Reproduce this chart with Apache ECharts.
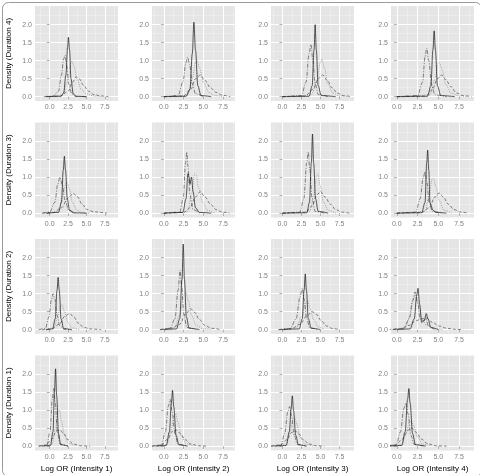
<!DOCTYPE html>
<html><head><meta charset="utf-8">
<script src="https://cdn.jsdelivr.net/npm/echarts@6/dist/echarts.min.js"></script>
<style>html,body{margin:0;padding:0;background:#fff}#c{width:480px;height:475px}</style>
</head><body><div id="c"></div><script>
const durationLabels = ['Density (Duration 4)', 'Density (Duration 3)', 'Density (Duration 2)', 'Density (Duration 1)'];
const intensityLabels = ['Log OR (Intensity 1)', 'Log OR (Intensity 2)', 'Log OR (Intensity 3)', 'Log OR (Intensity 4)'];
const xTicks = [0, 2.5, 5, 7.5];
const yTicks = [0, 0.5, 1, 1.5, 2];
const xMinor = [-1.25, 1.25, 3.75, 6.25, 8.75];
const yMinor = [0.25, 0.75, 1.25, 1.75, 2.25];

// Row 1: Duration 4
const r1c1_solid = [[-0.5,0],[1.5,0.01],[1.9,0.1],[2.2,0.6],[2.45,1.4],[2.55,1.65],[2.7,1.3],[2.9,0.5],[3.2,0.08],[3.6,0.01],[5,0]];
const r1c1_dashdot = [[-0.8,0],[0.5,0.02],[1.2,0.15],[1.6,0.6],[1.9,1.05],[2.1,1.15],[2.3,0.9],[2.6,0.35],[3.0,0.08],[3.5,0.01],[5,0]];
const r1c1_dotted = [[0.5,0],[1.8,0.05],[2.4,0.4],[2.8,0.9],[3.0,1.0],[3.3,0.85],[3.7,0.5],[4.3,0.2],[5,0.08],[6,0.02],[7,0]];
const r1c1_dashed = [[0,0],[1.5,0.02],[2.5,0.15],[3.1,0.4],[3.6,0.55],[4.0,0.5],[4.6,0.32],[5.3,0.15],[6.0,0.06],[7,0.02],[8,0]];

const r1c2_solid = [[0,0],[2.8,0.01],[3.3,0.2],[3.6,1.2],[3.8,2.07],[4.0,1.3],[4.3,0.3],[4.7,0.03],[6,0]];
const r1c2_dashdot = [[0,0],[1.8,0.03],[2.4,0.4],[2.8,0.95],[3.0,1.1],[3.25,0.9],[3.6,0.35],[4.0,0.08],[5,0]];
const r1c2_dotted = [[1.5,0],[3,0.05],[3.6,0.5],[4.0,0.95],[4.2,1.02],[4.5,0.8],[5.0,0.4],[5.7,0.12],[6.5,0.03],[7.5,0]];
const r1c2_dashed = [[0,0],[2.5,0.02],[3.4,0.2],[4.0,0.5],[4.6,0.6],[5.2,0.45],[5.9,0.25],[6.6,0.12],[7.4,0.04],[8.4,0]];

const r1c3_solid = [[0,0],[3.5,0.01],[3.9,0.3],[4.15,1.3],[4.3,2.0],[4.45,1.3],[4.7,0.3],[5.1,0.03],[7,0]];
const r1c3_dashdot = [[0,0],[2.5,0.03],[3.1,0.4],[3.5,1.2],[3.75,1.45],[4.0,1.0],[4.3,0.35],[4.7,0.06],[6,0]];
const r1c3_dotted = [[1.5,0],[3.8,0.05],[4.5,0.4],[5.0,0.95],[5.2,1.05],[5.5,0.8],[6.0,0.35],[6.6,0.1],[7.5,0.02],[8.5,0]];
const r1c3_dashed = [[0,0],[3.0,0.02],[4.0,0.2],[4.7,0.5],[5.3,0.6],[5.9,0.45],[6.5,0.25],[7.2,0.1],[8.0,0.03],[9,0]];

const r1c4_solid = [[0,0],[3.7,0.01],[4.1,0.3],[4.35,1.3],[4.5,1.83],[4.65,1.3],[4.9,0.3],[5.3,0.03],[7,0]];
const r1c4_dashdot = [[0,0],[2.5,0.03],[3.1,0.4],[3.4,1.1],[3.6,1.35],[3.85,1.0],[4.2,0.3],[4.6,0.05],[6,0]];
const r1c4_dotted = [[1.5,0],[4.0,0.05],[4.6,0.5],[5.0,0.92],[5.15,0.95],[5.45,0.75],[5.9,0.35],[6.5,0.1],[7.5,0.02],[8.5,0]];
const r1c4_dashed = [[0,0],[3.5,0.02],[4.3,0.2],[4.9,0.5],[5.4,0.6],[5.9,0.48],[6.5,0.28],[7.2,0.1],[8.0,0.03],[9,0]];

// Row 2: Duration 3
const r2c1_solid = [[-0.5,0],[1.2,0.02],[1.6,0.3],[1.85,1.2],[2.0,1.58],[2.15,1.2],[2.4,0.4],[2.7,0.08],[3.2,0.01],[5,0]];
const r2c1_dashdot = [[-1,0],[0,0.03],[0.7,0.3],[1.1,0.8],[1.4,1.0],[1.7,0.8],[2.1,0.35],[2.6,0.08],[3.5,0]];
const r2c1_dotted = [[0,0],[1.2,0.05],[1.8,0.5],[2.2,0.82],[2.4,0.85],[2.7,0.65],[3.1,0.3],[3.7,0.08],[4.5,0.01],[5.5,0]];
const r2c1_dashed = [[-1,0],[0.5,0.02],[1.6,0.15],[2.5,0.42],[3.2,0.55],[3.8,0.45],[4.4,0.25],[5.1,0.1],[6,0.04],[7,0.02],[7.8,0]];

const r2c2_solid = [[0,0],[2.4,0.02],[2.8,0.4],[3.05,1.1],[3.2,1.0],[3.3,0.8],[3.5,1.0],[3.7,0.6],[4.0,0.15],[4.5,0.02],[6,0]];
const r2c2_dashdot = [[0,0],[2.0,0.03],[2.45,0.4],[2.75,1.4],[2.9,1.7],[3.05,1.3],[3.3,0.5],[3.7,0.1],[4.5,0]];
const r2c2_dotted = [[1.5,0],[3.0,0.05],[3.5,0.5],[3.9,1.1],[4.1,1.05],[4.4,0.7],[4.9,0.3],[5.5,0.08],[6.5,0]];
const r2c2_dashed = [[0,0],[2.5,0.02],[3.3,0.15],[4.0,0.45],[4.6,0.6],[5.2,0.45],[5.9,0.25],[6.6,0.1],[7.4,0.03],[8.3,0]];

const r2c3_solid = [[0,0],[3.2,0.01],[3.55,0.3],[3.8,1.4],[3.95,2.2],[4.1,1.4],[4.35,0.4],[4.7,0.05],[6,0]];
const r2c3_dashdot = [[0,0],[2.3,0.03],[2.8,0.4],[3.2,1.4],[3.4,1.7],[3.6,1.2],[3.9,0.4],[4.3,0.05],[5.5,0]];
const r2c3_dotted = [[1.5,0],[3.6,0.05],[4.1,0.5],[4.5,1.05],[4.65,1.1],[4.9,0.8],[5.4,0.3],[6.0,0.08],[7,0]];
const r2c3_dashed = [[0,0],[3.0,0.02],[3.9,0.2],[4.5,0.5],[5.0,0.6],[5.6,0.45],[6.3,0.25],[7.0,0.1],[7.8,0.03],[8.8,0]];

const r2c4_solid = [[0,0],[3.0,0.01],[3.4,0.3],[3.6,1.4],[3.72,1.75],[3.85,1.2],[4.0,0.3],[4.15,0.2],[4.3,0.1],[4.7,0.02],[6,0]];
const r2c4_dashdot = [[0,0],[2.3,0.03],[2.8,0.4],[3.2,1.0],[3.4,1.15],[3.6,0.9],[3.9,0.3],[4.3,0.05],[5.5,0]];
const r2c4_dotted = [[1.5,0],[3.4,0.05],[3.9,0.5],[4.25,0.95],[4.4,0.97],[4.7,0.75],[5.1,0.35],[5.7,0.08],[6.6,0]];
const r2c4_dashed = [[0,0],[3.0,0.02],[3.9,0.15],[4.6,0.45],[5.1,0.56],[5.6,0.45],[6.2,0.25],[6.9,0.1],[7.7,0.03],[8.6,0]];

// Row 3: Duration 2
const r3c1_solid = [[-0.5,0],[0.4,0.02],[0.75,0.3],[1.0,1.1],[1.15,1.45],[1.3,1.1],[1.55,0.3],[1.9,0.03],[3,0]];
const r3c1_dashdot = [[-1.5,0],[-0.6,0.03],[-0.1,0.35],[0.25,0.85],[0.45,1.0],[0.7,0.85],[1.0,0.4],[1.4,0.1],[2.0,0.01],[3,0]];
const r3c1_dotted = [[-0.5,0],[0.6,0.05],[1.1,0.4],[1.5,0.68],[1.7,0.7],[2.0,0.5],[2.5,0.2],[3.0,0.05],[4,0]];
const r3c1_dashed = [[-1,0],[0.3,0.02],[1.3,0.15],[2.1,0.38],[2.7,0.45],[3.3,0.35],[3.9,0.18],[4.6,0.07],[5.5,0.02],[7,0]];

const r3c2_solid = [[0,0],[1.6,0.02],[2.0,0.3],[2.3,1.4],[2.45,2.38],[2.6,1.4],[2.85,0.35],[3.2,0.04],[4.5,0]];
const r3c2_dashdot = [[-0.5,0],[0.8,0.04],[1.4,0.3],[1.8,1.1],[2.05,1.65],[2.25,1.2],[2.55,0.4],[2.9,0.06],[4,0]];
const r3c2_dotted = [[0,0],[1.3,0.05],[2.0,0.4],[2.5,0.95],[2.8,1.05],[3.1,0.8],[3.5,0.4],[4.1,0.12],[5,0.02],[6,0]];
const r3c2_dashed = [[-0.5,0],[1.0,0.04],[2.0,0.15],[2.8,0.45],[3.4,0.58],[3.9,0.48],[4.5,0.28],[5.2,0.12],[6.0,0.04],[7.2,0]];

const r3c3_solid = [[0,0],[2.2,0.02],[2.6,0.3],[2.85,1.1],[3.0,1.55],[3.15,1.1],[3.4,0.3],[3.8,0.04],[5,0]];
const r3c3_dashdot = [[-0.5,0],[1.0,0.03],[1.8,0.3],[2.3,0.9],[2.6,1.15],[2.85,0.85],[3.2,0.3],[3.6,0.05],[4.5,0]];
const r3c3_dotted = [[0,0],[1.8,0.05],[2.5,0.35],[3.1,0.75],[3.3,0.8],[3.6,0.6],[4.1,0.28],[4.7,0.08],[5.5,0]];
const r3c3_dashed = [[-0.5,0],[1.2,0.03],[2.3,0.15],[3.2,0.38],[3.9,0.5],[4.5,0.42],[5.1,0.25],[5.8,0.1],[6.6,0.03],[7.5,0]];

const r3c4_solid = [[0,0],[1.6,0.02],[2.1,0.3],[2.4,0.95],[2.55,1.15],[2.75,0.7],[3.0,0.2],[3.3,0.25],[3.55,0.45],[3.75,0.3],[4.1,0.06],[5,0]];
const r3c4_dashdot = [[-0.5,0],[0.8,0.03],[1.5,0.3],[1.9,0.8],[2.2,1.05],[2.5,0.75],[2.8,0.3],[3.2,0.25],[3.5,0.3],[3.8,0.12],[4.5,0]];
const r3c4_dotted = [[-0.5,0],[1.0,0.05],[1.6,0.4],[2.0,0.85],[2.3,1.0],[2.6,0.7],[3.0,0.35],[3.6,0.12],[4.5,0.02],[5.5,0]];
const r3c4_dashed = [[-1,0],[0.5,0.03],[1.5,0.12],[2.3,0.25],[3.0,0.3],[3.6,0.32],[4.3,0.2],[5.1,0.1],[6.0,0.04],[7,0.01],[8,0]];

// Row 4: Duration 1
const r4c1_solid = [[-1,0],[0.1,0.02],[0.45,0.4],[0.65,1.5],[0.8,2.15],[0.95,1.4],[1.2,0.35],[1.5,0.04],[2.5,0]];
const r4c1_dashdot = [[-1.5,0],[-0.4,0.03],[0.05,0.4],[0.35,1.3],[0.55,1.6],[0.75,1.2],[1.05,0.4],[1.4,0.06],[2.5,0]];
const r4c1_dotted = [[-1,0],[0.3,0.05],[0.8,0.5],[1.15,0.95],[1.35,1.0],[1.6,0.7],[2.0,0.3],[2.5,0.08],[3.5,0]];
const r4c1_dashed = [[-1.5,0],[-0.5,0.03],[0.3,0.2],[0.9,0.42],[1.4,0.45],[1.9,0.35],[2.5,0.18],[3.2,0.06],[4.2,0.01],[5.5,0]];

const r4c2_solid = [[-1,0],[0.3,0.02],[0.7,0.4],[0.95,1.2],[1.1,1.55],[1.25,1.1],[1.55,0.3],[1.9,0.04],[3,0]];
const r4c2_dashdot = [[-1.5,0],[-0.3,0.03],[0.2,0.4],[0.55,1.1],[0.8,1.3],[1.05,0.95],[1.4,0.35],[1.8,0.05],[3,0]];
const r4c2_dotted = [[-1,0],[0.4,0.05],[0.9,0.45],[1.3,0.85],[1.5,0.9],[1.8,0.65],[2.2,0.28],[2.8,0.07],[3.8,0]];
const r4c2_dashed = [[-1.5,0],[-0.3,0.03],[0.5,0.2],[1.1,0.42],[1.6,0.45],[2.1,0.35],[2.7,0.18],[3.4,0.06],[4.4,0.01],[5.5,0]];

const r4c3_solid = [[-1,0],[0.5,0.02],[0.9,0.4],[1.15,1.05],[1.3,1.4],[1.45,1.0],[1.75,0.3],[2.1,0.04],[3.2,0]];
const r4c3_dashdot = [[-1.5,0],[-0.2,0.03],[0.3,0.35],[0.7,0.95],[0.95,1.1],[1.2,0.85],[1.55,0.3],[1.95,0.05],[3,0]];
const r4c3_dotted = [[-1,0],[0.5,0.05],[1.0,0.4],[1.4,0.75],[1.6,0.8],[1.9,0.6],[2.3,0.25],[2.9,0.06],[4,0]];
const r4c3_dashed = [[-1.5,0],[-0.3,0.03],[0.6,0.18],[1.2,0.38],[1.7,0.42],[2.2,0.33],[2.8,0.17],[3.5,0.06],[4.5,0.01],[5.5,0]];

const r4c4_solid = [[-1,0],[0.6,0.02],[1.0,0.4],[1.3,1.3],[1.45,1.6],[1.6,1.2],[1.9,0.35],[2.25,0.04],[3.5,0]];
const r4c4_dashdot = [[-1.5,0],[-0.1,0.03],[0.45,0.4],[0.85,1.05],[1.1,1.2],[1.35,0.9],[1.7,0.3],[2.1,0.05],[3.2,0]];
const r4c4_dotted = [[-1,0],[0.6,0.05],[1.1,0.35],[1.5,0.65],[1.75,0.7],[2.05,0.55],[2.5,0.25],[3.1,0.06],[4.2,0]];
const r4c4_dashed = [[-1.5,0],[-0.2,0.03],[0.7,0.2],[1.35,0.45],[1.85,0.5],[2.35,0.38],[2.95,0.2],[3.7,0.07],[4.7,0.01],[6,0]];

const panels = [
  [[r1c1_solid,r1c1_dashdot,r1c1_dotted,r1c1_dashed],[r1c2_solid,r1c2_dashdot,r1c2_dotted,r1c2_dashed],[r1c3_solid,r1c3_dashdot,r1c3_dotted,r1c3_dashed],[r1c4_solid,r1c4_dashdot,r1c4_dotted,r1c4_dashed]],
  [[r2c1_solid,r2c1_dashdot,r2c1_dotted,r2c1_dashed],[r2c2_solid,r2c2_dashdot,r2c2_dotted,r2c2_dashed],[r2c3_solid,r2c3_dashdot,r2c3_dotted,r2c3_dashed],[r2c4_solid,r2c4_dashdot,r2c4_dotted,r2c4_dashed]],
  [[r3c1_solid,r3c1_dashdot,r3c1_dotted,r3c1_dashed],[r3c2_solid,r3c2_dashdot,r3c2_dotted,r3c2_dashed],[r3c3_solid,r3c3_dashdot,r3c3_dotted,r3c3_dashed],[r3c4_solid,r3c4_dashdot,r3c4_dotted,r3c4_dashed]],
  [[r4c1_solid,r4c1_dashdot,r4c1_dotted,r4c1_dashed],[r4c2_solid,r4c2_dashdot,r4c2_dotted,r4c2_dashed],[r4c3_solid,r4c3_dashdot,r4c3_dotted,r4c3_dashed],[r4c4_solid,r4c4_dashdot,r4c4_dotted,r4c4_dashed]]
];

const xMinByCol = [-2.0, -1.5, -1.5, -0.7];
const xMaxByCol = [9.3, 9.0, 9.4, 9.3];
const yMin = -0.12, yMax = 2.52;

const colLeft = [35, 152, 271, 391];
const panelW = 83;
const rowTop = [6, 122.5, 239, 355.5];
const panelH = 95;

const FONT = 'Liberation Sans';
const lineStyles = [
  {type: 'solid', color: '#111', width: 0.7},
  {type: [4, 1.5, 1, 1.5], color: '#333', width: 0.6},
  {type: [1, 1.2], color: '#777', width: 0.6},
  {type: [3, 2], color: '#333', width: 0.6}
];

const grid = [], xAxis = [], yAxis = [], series = [];
let gi = 0;
for (let r = 0; r < 4; r++) {
  for (let c = 0; c < 4; c++) {
    grid.push({left: colLeft[c], top: rowTop[r], width: panelW, height: panelH,
      show: true, backgroundColor: '#E5E5E5', borderWidth: 0});
    const ax = 2 * gi;
    xAxis.push({type: 'value', gridIndex: gi, min: xMinByCol[c], max: xMaxByCol[c],
      axisLine: {show: false},
      axisTick: {show: true, customValues: xTicks, length: 3, lineStyle: {color: '#7F7F7F', width: 0.6}},
      axisLabel: {customValues: xTicks, formatter: v => v.toFixed(1), fontSize: 7, color: '#7F7F7F', fontFamily: FONT, margin: 3},
      splitLine: {show: true, lineStyle: {color: '#FFFFFF', width: 1}},
      name: r === 3 ? intensityLabels[c] : '', nameLocation: 'middle', nameGap: 14,
      nameTextStyle: {fontSize: 8, color: '#000', fontFamily: FONT}
    });
    xAxis.push({type: 'value', gridIndex: gi, min: xMinByCol[c], max: xMaxByCol[c],
      axisLine: {show: false}, axisLabel: {show: false},
      axisTick: {show: false, customValues: xMinor},
      splitLine: {show: true, lineStyle: {color: '#F2F2F2', width: 0.5}}
    });
    yAxis.push({type: 'value', gridIndex: gi, min: yMin, max: yMax,
      axisLine: {show: false},
      axisTick: {show: true, customValues: yTicks, length: 3, lineStyle: {color: '#7F7F7F', width: 0.6}},
      axisLabel: {customValues: yTicks, formatter: v => v.toFixed(1), fontSize: 7, color: '#7F7F7F', fontFamily: FONT, margin: 3},
      splitLine: {show: true, lineStyle: {color: '#FFFFFF', width: 1}},
      name: c === 0 ? durationLabels[r] : '', nameLocation: 'middle', nameGap: 22, nameRotate: 90,
      nameTextStyle: {fontSize: 8, color: '#000', fontFamily: FONT}
    });
    yAxis.push({type: 'value', gridIndex: gi, min: yMin, max: yMax,
      axisLine: {show: false}, axisLabel: {show: false},
      axisTick: {show: false, customValues: yMinor},
      splitLine: {show: true, lineStyle: {color: '#F2F2F2', width: 0.5}}
    });
    panels[r][c].forEach((d, k) => {
      series.push({type: 'line', xAxisIndex: ax, yAxisIndex: ax, data: d,
        smooth: 0.35, smoothMonotone: 'x', showSymbol: false, symbol: 'none', silent: true,
        lineStyle: lineStyles[k], z: 3 + (3 - k)});
    });
    gi++;
  }
}

const chart = echarts.init(document.getElementById('c'), null, {renderer: 'canvas'});
chart.setOption({
  animation: false,
  backgroundColor: '#fff',
  grid, xAxis, yAxis, series,
  graphic: [{type: 'rect', left: 0, top: 0, shape: {x: 0.5, y: 0.5, width: 479, height: 474, r: 6},
    style: {fill: 'none', stroke: '#9a9a9a', lineWidth: 1}, silent: true}]
});
</script></body></html>
